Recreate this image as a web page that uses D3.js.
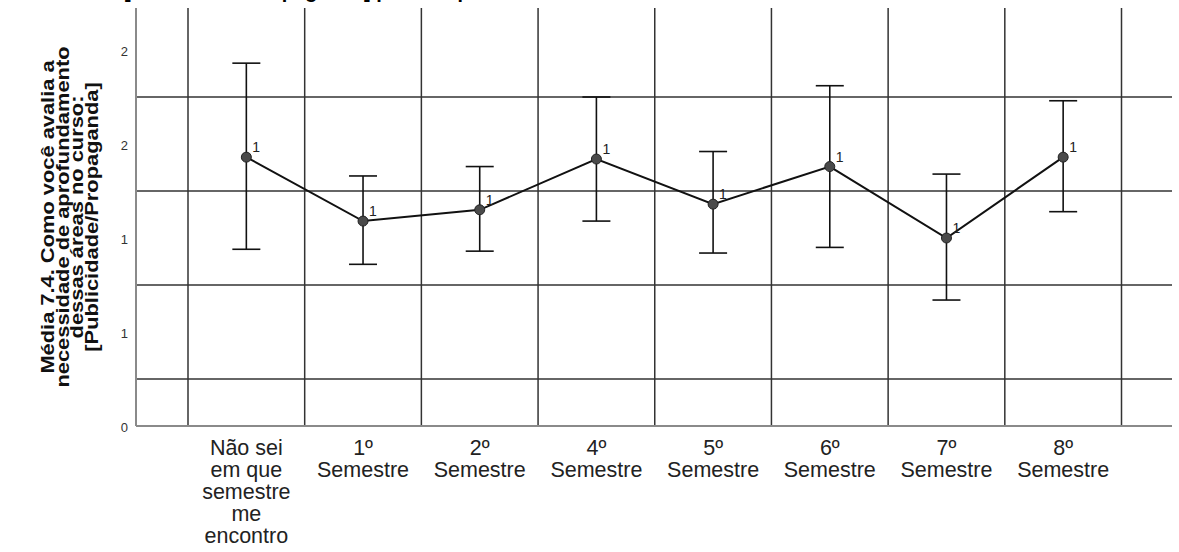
<!DOCTYPE html>
<html>
<head>
<meta charset="utf-8">
<script src="https://d3js.org/d3.v7.min.js"></script>
<style>
  body { margin: 0; background: #fff; }
  text { font-family: "Liberation Sans", Arial, sans-serif; }
</style>
</head>
<body>
<div id="chart"></div>
<script>
// data
var categories = ["Não sei em que semestre me encontro", "1º Semestre", "2º Semestre", "4º Semestre",
                  "5º Semestre", "6º Semestre", "7º Semestre", "8º Semestre"];
var catLines = [["Não sei", "em que", "semestre", "me", "encontro"], ["1º", "Semestre"], ["2º", "Semestre"],
                ["4º", "Semestre"], ["5º", "Semestre"], ["6º", "Semestre"], ["7º", "Semestre"], ["8º", "Semestre"]];
var means = [1.43, 1.09, 1.15, 1.42, 1.18, 1.38, 1.00, 1.43];
var upper = [1.93, 1.33, 1.38, 1.75, 1.46, 1.81, 1.34, 1.73];
var lower = [0.94, 0.86, 0.93, 1.09, 0.92, 0.95, 0.67, 1.14];
var counts = ["1", "1", "1", "1", "1", "1", "1", "1"];
var yTickValues = [0, 0.5, 1, 1.5, 2];
var yTickLabels = ["0", "1", "1", "2", "2"];
var yGridValues = [0.25, 0.75, 1.25, 1.75];

var W = 1179, H = 552;
var plotLeft = 136, plotRight = 1172, plotTop = 8, plotBottom = 426;

var svg = d3.select("#chart").append("svg")
  .attr("width", W).attr("height", H);

var x = d3.scaleBand().domain(categories).range([188, 1121.5]).padding(0);
var y = d3.scaleLinear().domain([0, 2]).range([plotBottom, 50]);
var cx = function(i) { return x(categories[i]) + x.bandwidth() / 2; };

// cut-off title at the very top
svg.append("text")
  .attr("x", 124).attr("y", -2)
  .style("font-size", "20px").style("font-weight", "bold")
  .text("[Publicidade/Propaganda] por Em que semestre você está?");

// horizontal grid
svg.append("g").selectAll("line").data(yGridValues).enter().append("line")
  .attr("x1", plotLeft).attr("x2", plotRight)
  .attr("y1", function(d) { return y(d); }).attr("y2", function(d) { return y(d); })
  .attr("stroke", "#333").attr("stroke-width", 1.5);

// vertical grid at band edges
var edges = categories.map(function(c) { return x(c); }).concat([x.range()[1]]);
svg.append("g").selectAll("line").data(edges).enter().append("line")
  .attr("x1", function(d) { return d; }).attr("x2", function(d) { return d; })
  .attr("y1", plotTop).attr("y2", plotBottom)
  .attr("stroke", "#333").attr("stroke-width", 1.5);

// axes
svg.append("line").attr("x1", plotLeft).attr("x2", plotLeft).attr("y1", plotTop).attr("y2", plotBottom)
  .attr("stroke", "#8a8a8a").attr("stroke-width", 2);
svg.append("line").attr("x1", plotLeft).attr("x2", plotRight).attr("y1", plotBottom).attr("y2", plotBottom)
  .attr("stroke", "#8a8a8a").attr("stroke-width", 2);

// y tick labels
svg.append("g").selectAll("text").data(yTickValues).enter().append("text")
  .attr("x", 128).attr("y", function(d) { return y(d) + 6; })
  .attr("text-anchor", "end")
  .style("font-size", "13px").style("fill", "#333")
  .text(function(d, i) { return yTickLabels[i]; });

// x labels
var xl = svg.append("g").selectAll("text").data(catLines).enter().append("text")
  .attr("text-anchor", "middle")
  .style("font-size", "21.5px").style("fill", "#222");
xl.selectAll("tspan").data(function(d, i) { return d.map(function(s) { return {s: s, i: i}; }); })
  .enter().append("tspan")
  .attr("x", function(d) { return cx(d.i); })
  .attr("y", function(d, j) { return 455 + j * 22; })
  .text(function(d) { return d.s; });

// y axis title (stretched a bit along its length, like the source)
var yt = svg.append("text")
  .attr("transform", "translate(0," + ((plotTop + plotBottom) / 2) + ") rotate(-90) scale(1.15,1)")
  .attr("text-anchor", "middle")
  .style("font-size", "19px").style("font-weight", "bold").style("fill", "#111");
var titleLines = ["Média 7.4. Como você avalia a", "necessidade de aprofundamento", "dessas áreas no curso:", "[Publicidade/Propaganda]"];
yt.selectAll("tspan").data(titleLines).enter().append("tspan")
  .attr("x", 0).attr("y", function(d, i) { return 54 + i * 14.7; })
  .text(function(d) { return d; });

// error bars
var eb = svg.append("g").selectAll("g").data(means).enter().append("g");
eb.append("line")
  .attr("x1", function(d, i) { return cx(i); }).attr("x2", function(d, i) { return cx(i); })
  .attr("y1", function(d, i) { return y(upper[i]); }).attr("y2", function(d, i) { return y(lower[i]); })
  .attr("stroke", "#111").attr("stroke-width", 1.6);
eb.append("line")
  .attr("x1", function(d, i) { return cx(i) - 14; }).attr("x2", function(d, i) { return cx(i) + 14; })
  .attr("y1", function(d, i) { return y(upper[i]); }).attr("y2", function(d, i) { return y(upper[i]); })
  .attr("stroke", "#111").attr("stroke-width", 1.6);
eb.append("line")
  .attr("x1", function(d, i) { return cx(i) - 14; }).attr("x2", function(d, i) { return cx(i) + 14; })
  .attr("y1", function(d, i) { return y(lower[i]); }).attr("y2", function(d, i) { return y(lower[i]); })
  .attr("stroke", "#111").attr("stroke-width", 1.6);

// mean line
svg.append("path")
  .datum(means)
  .attr("d", d3.line().x(function(d, i) { return cx(i); }).y(function(d) { return y(d); }))
  .attr("fill", "none").attr("stroke", "#111").attr("stroke-width", 2);

// markers
svg.append("g").selectAll("circle").data(means).enter().append("circle")
  .attr("cx", function(d, i) { return cx(i); }).attr("cy", function(d) { return y(d); })
  .attr("r", 5)
  .attr("fill", "#4a4a4a").attr("stroke", "#222").attr("stroke-width", 1);

// count labels
svg.append("g").selectAll("text").data(means).enter().append("text")
  .attr("x", function(d, i) { return cx(i) + 6; }).attr("y", function(d) { return y(d) - 5; })
  .style("font-size", "14px").style("fill", "#222")
  .text(function(d, i) { return counts[i]; });
</script>
</body>
</html>
